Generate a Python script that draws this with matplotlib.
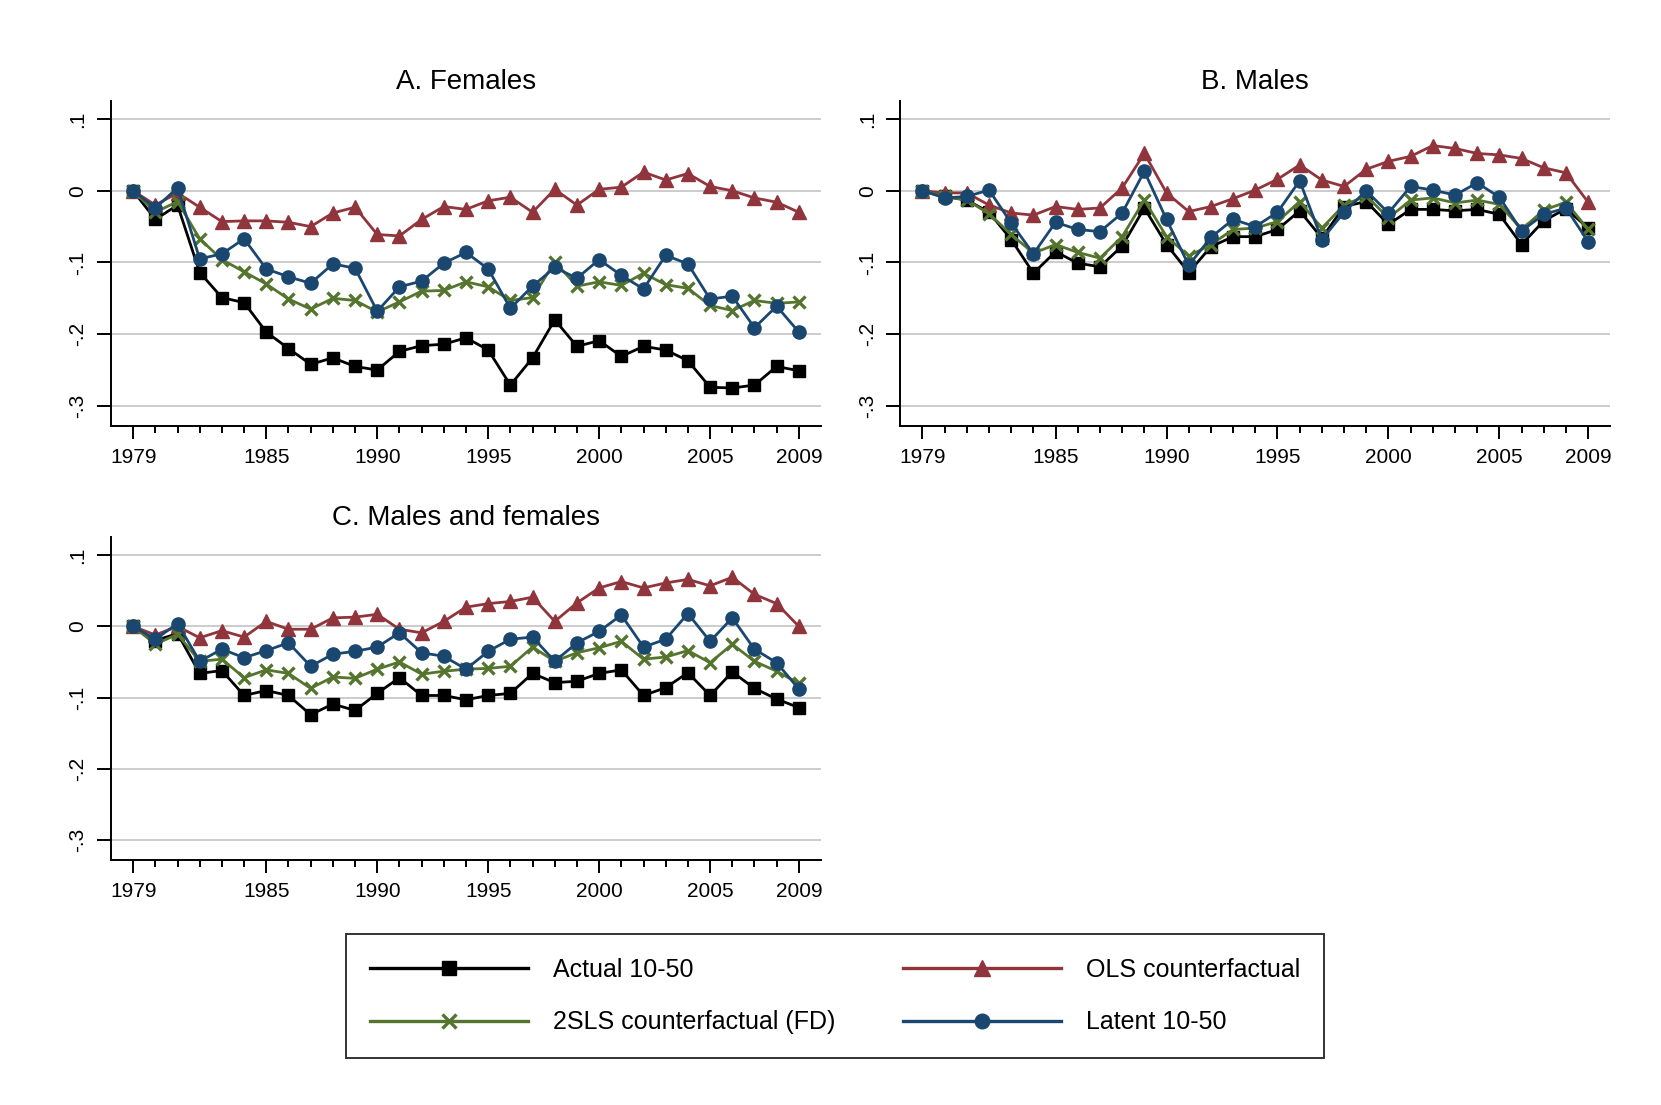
import matplotlib
matplotlib.use("Agg")
import matplotlib.pyplot as plt
from matplotlib.lines import Line2D
import numpy as np

plt.rcParams['font.family'] = ['Liberation Sans', 'DejaVu Sans']

years = list(range(1979, 2010))

# Panel A: Females
fem_actual = [0, -0.040, -0.020, -0.114, -0.149, -0.156, -0.197, -0.220, -0.242, -0.233, -0.245,
              -0.250, -0.224, -0.216, -0.214, -0.205, -0.222, -0.271, -0.233, -0.180, -0.217,
              -0.209, -0.231, -0.217, -0.222, -0.237, -0.274, -0.275, -0.271, -0.245, -0.251]
fem_ols = [0, -0.020, -0.003, -0.023, -0.043, -0.042, -0.042, -0.044, -0.050, -0.031, -0.023,
           -0.061, -0.063, -0.040, -0.022, -0.026, -0.014, -0.009, -0.030, 0.002, -0.020,
           0.002, 0.005, 0.026, 0.015, 0.024, 0.006, 0.000, -0.010, -0.016, -0.030]
fem_2sls = [0, -0.030, -0.015, -0.067, -0.096, -0.113, -0.130, -0.151, -0.165, -0.150, -0.153,
            -0.169, -0.155, -0.140, -0.139, -0.127, -0.134, -0.153, -0.149, -0.099, -0.133,
            -0.127, -0.132, -0.115, -0.131, -0.136, -0.160, -0.167, -0.153, -0.157, -0.155]
fem_latent = [0, -0.024, 0.004, -0.095, -0.088, -0.067, -0.109, -0.120, -0.129, -0.102, -0.108,
              -0.168, -0.134, -0.126, -0.101, -0.086, -0.109, -0.164, -0.133, -0.107, -0.122,
              -0.096, -0.118, -0.137, -0.090, -0.102, -0.151, -0.147, -0.191, -0.161, -0.197]

# Panel B: Males
male_actual = [0, -0.008, -0.013, -0.030, -0.068, -0.115, -0.085, -0.101, -0.106, -0.077, -0.024,
               -0.075, -0.114, -0.078, -0.064, -0.064, -0.054, -0.028, -0.066, -0.022, -0.015,
               -0.047, -0.026, -0.026, -0.028, -0.026, -0.033, -0.075, -0.042, -0.025, -0.052]
male_ols = [0, -0.003, -0.003, -0.020, -0.031, -0.034, -0.022, -0.026, -0.024, 0.004, 0.052,
            -0.003, -0.029, -0.022, -0.011, 0.001, 0.016, 0.036, 0.015, 0.006, 0.030,
            0.041, 0.048, 0.063, 0.059, 0.052, 0.050, 0.045, 0.032, 0.025, -0.016]
male_2sls = [0, -0.008, -0.013, -0.032, -0.061, -0.087, -0.075, -0.086, -0.094, -0.064, -0.013,
             -0.064, -0.091, -0.075, -0.054, -0.052, -0.043, -0.015, -0.052, -0.020, -0.007,
             -0.038, -0.013, -0.010, -0.017, -0.013, -0.019, -0.054, -0.027, -0.016, -0.054]
male_latent = [0, -0.010, -0.008, 0.001, -0.045, -0.088, -0.044, -0.054, -0.057, -0.031, 0.027,
               -0.040, -0.104, -0.065, -0.040, -0.050, -0.030, 0.014, -0.068, -0.030, 0.000,
               -0.031, 0.006, 0.001, -0.006, 0.011, -0.009, -0.056, -0.033, -0.024, -0.071]

# Panel C: Males and females
all_actual = [0, -0.020, -0.010, -0.066, -0.062, -0.097, -0.090, -0.097, -0.124, -0.109, -0.118,
              -0.094, -0.072, -0.097, -0.097, -0.103, -0.097, -0.094, -0.066, -0.079, -0.077,
              -0.066, -0.061, -0.097, -0.086, -0.065, -0.097, -0.064, -0.087, -0.102, -0.114]
all_ols = [0, -0.012, 0.000, -0.016, -0.006, -0.015, 0.007, -0.004, -0.004, 0.012, 0.013,
           0.017, -0.004, -0.009, 0.007, 0.027, 0.032, 0.035, 0.041, 0.007, 0.033,
           0.054, 0.063, 0.054, 0.061, 0.066, 0.057, 0.069, 0.045, 0.032, 0.000]
all_2sls = [0, -0.025, -0.011, -0.049, -0.046, -0.072, -0.061, -0.066, -0.087, -0.071, -0.073,
            -0.060, -0.050, -0.067, -0.063, -0.060, -0.059, -0.056, -0.029, -0.049, -0.037,
            -0.030, -0.021, -0.046, -0.043, -0.034, -0.051, -0.025, -0.049, -0.063, -0.080]
all_latent = [0, -0.018, 0.004, -0.049, -0.032, -0.044, -0.034, -0.023, -0.056, -0.039, -0.035,
              -0.029, -0.009, -0.037, -0.042, -0.060, -0.035, -0.018, -0.015, -0.049, -0.023,
              -0.007, 0.016, -0.029, -0.018, 0.018, -0.021, 0.012, -0.032, -0.051, -0.088]

panel_titles = ["A. Females", "B. Males", "C. Males and females"]
series_labels = ["Actual 10-50", "OLS counterfactual", "2SLS counterfactual (FD)", "Latent 10-50"]
xtick_labels = [1979, 1985, 1990, 1995, 2000, 2005, 2009]
ytick_vals = [0.1, 0, -0.1, -0.2, -0.3]
ytick_labels = [".1", "0", "-.1", "-.2", "-.3"]

colors = ["#000000", "#90353b", "#55752f", "#1a476f"]
markers = ["s", "^", "x", "o"]
msizes = [9, 10, 8.5, 9.5]
mews = [1, 1, 2.4, 1]

fig = plt.figure(figsize=(16.61, 11.05), dpi=100)

axes_rects = [
    [0.0668, 0.6145, 0.4275, 0.294],
    [0.5420, 0.6145, 0.4275, 0.294],
    [0.0668, 0.2217, 0.4275, 0.292],
]
panels = [
    [fem_actual, fem_ols, fem_2sls, fem_latent],
    [male_actual, male_ols, male_2sls, male_latent],
    [all_actual, all_ols, all_2sls, all_latent],
]
plot_order = [0, 2, 1, 3]

for rect, data, title in zip(axes_rects, panels, panel_titles):
    ax = fig.add_axes(rect)
    for i in plot_order:
        ax.plot(years, data[i], color=colors[i], marker=markers[i], markersize=msizes[i],
                markeredgewidth=mews[i], linewidth=2.0, zorder=3 + i)
    ax.set_xlim(1978, 2010)
    ax.set_ylim(-0.328, 0.125)
    ax.set_yticks(ytick_vals)
    ax.set_yticklabels(ytick_labels, rotation=90, va='center', fontsize=15)
    ax.set_xticks(years, minor=True)
    ax.set_xticks(xtick_labels)
    ax.set_xticklabels([str(v) for v in xtick_labels], fontsize=15)
    ax.tick_params(axis='x', which='major', direction='out', length=9, width=1.4, pad=7)
    ax.tick_params(axis='x', which='minor', direction='out', length=5, width=1.4)
    ax.tick_params(axis='y', which='major', direction='out', length=10, width=1.4, pad=7)
    for yv in ytick_vals:
        ax.axhline(yv, color='#c8c8c8', linewidth=1.3, zorder=1)
    for s in ['top', 'right']:
        ax.spines[s].set_visible(False)
    for s in ['left', 'bottom']:
        ax.spines[s].set_linewidth(1.4)
    ax.set_title(title, fontsize=20, pad=9)

handles = [Line2D([0], [0], color=colors[i], marker=markers[i], markersize=msizes[i] + 1,
                  markeredgewidth=mews[i], linewidth=2.4) for i in range(4)]
order = [0, 2, 1, 3]
leg = fig.legend([handles[i] for i in order], [series_labels[i] for i in order],
                 loc='upper left', bbox_to_anchor=(0.2085, 0.0434, 0.5885, 0.1115),
                 mode='expand', ncol=2, numpoints=1, fontsize=18, frameon=True,
                 fancybox=False, edgecolor='black', handlelength=6.3, handletextpad=1.0,
                 labelspacing=1.15, borderpad=0.95, borderaxespad=0.0)
leg.get_frame().set_linewidth(1.4)

fig.savefig("out.png", dpi=100, facecolor='white')
